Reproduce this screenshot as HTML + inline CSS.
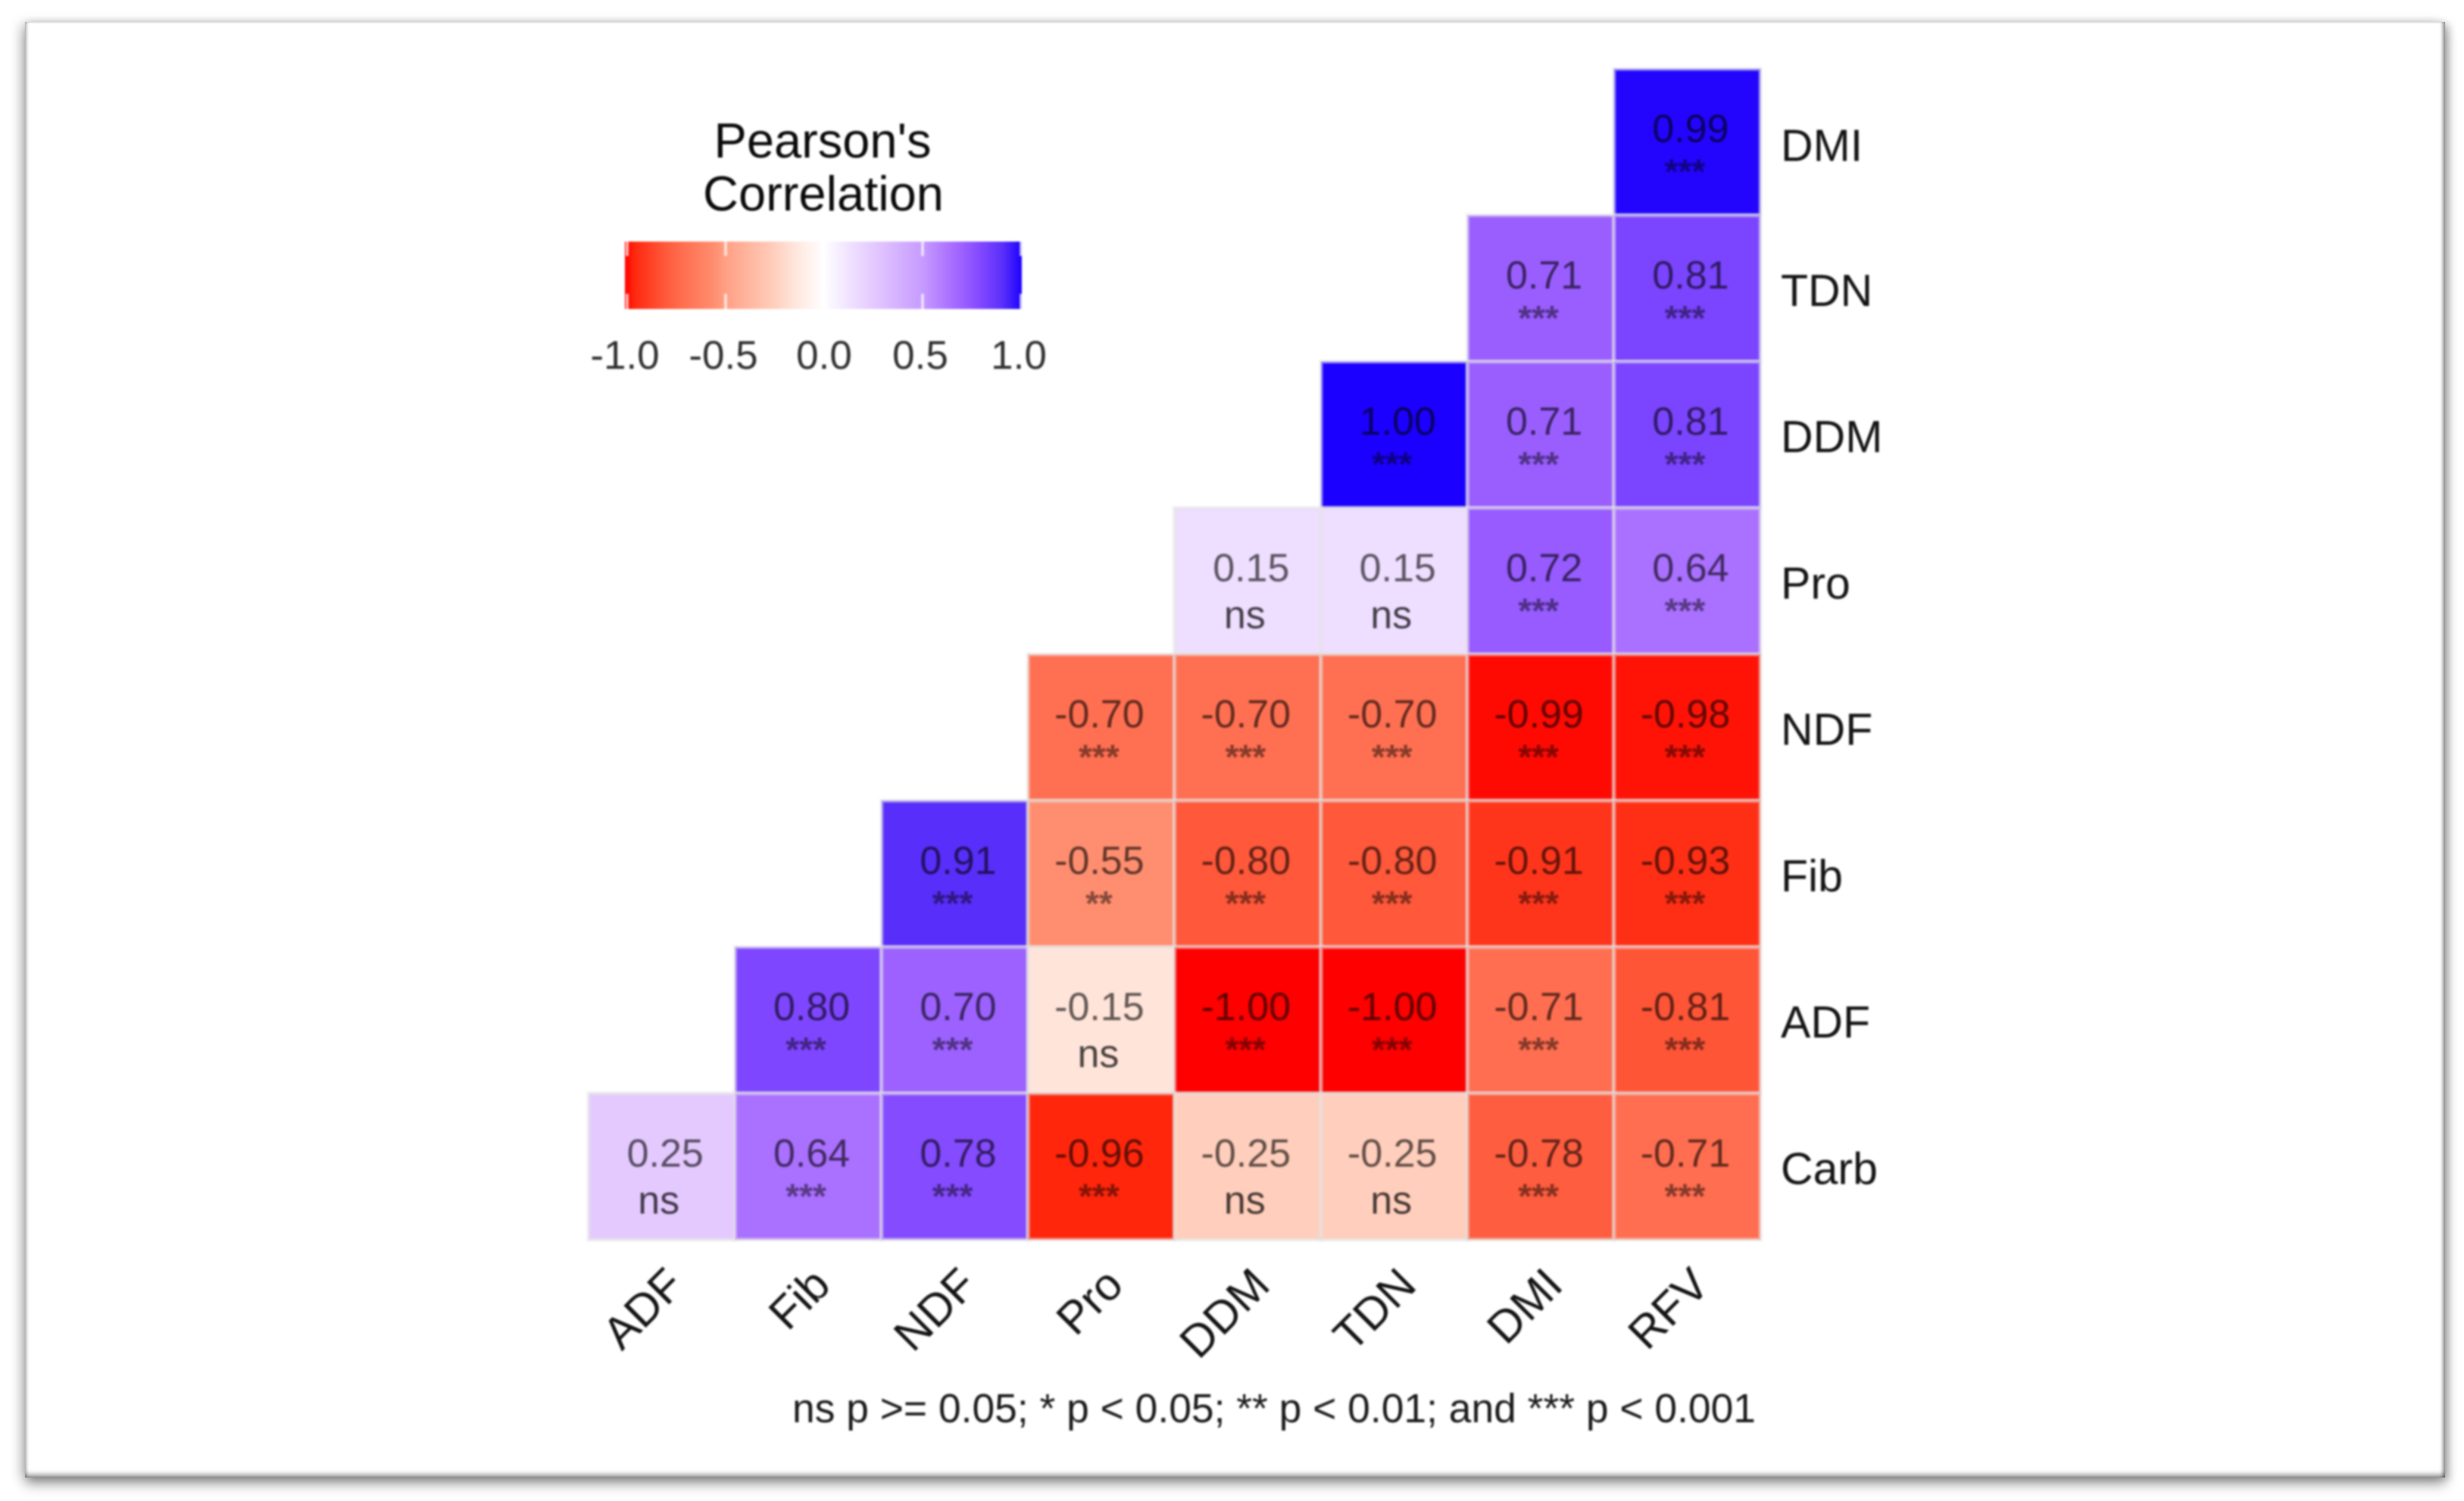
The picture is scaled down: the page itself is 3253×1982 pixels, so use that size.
<!DOCTYPE html>
<html lang="en">
<head>
<meta charset="utf-8">
<title>Pearson's Correlation Heatmap</title>
<style>
  html, body { margin: 0; padding: 0; background: #fff; width: 3253px; height: 1982px; overflow: hidden; }
  #frame {
    position: absolute; left: 33px; top: 29px; width: 3195px; height: 1922px; background: #fff;
    box-shadow: 0 10px 16px rgba(0,0,0,.30), 5px 3px 10px rgba(0,0,0,.22), -7px 0 14px rgba(0,0,0,.13), 0 -3px 7px rgba(0,0,0,.025),
      inset 0 -7px 7px -3px rgba(0,0,0,.42), inset -5px 0 5px -2px rgba(0,0,0,.42), inset 4px 0 4px -2px rgba(0,0,0,.28), inset 0 1px 2px rgba(0,0,0,.03);
  }
  #chart { position: absolute; left: 0; top: 0; filter: blur(1.4px); font-family: "Liberation Sans", Arial, sans-serif; }
</style>
</head>
<body>
<div id="frame"></div>
<svg id="chart" width="3253" height="1982" viewBox="0 0 3253 1982" xmlns="http://www.w3.org/2000/svg">
  <defs><linearGradient id="legend-gradient" x1="0" x2="1" y1="0" y2="0"></linearGradient></defs>
  <g id="cells"></g>
  <g id="cell-labels"></g>
  <g id="y-axis"></g>
  <g id="x-axis"></g>
  <g id="legend">
    <text x="1086" y="208" text-anchor="middle" font-size="65" fill="#0a0a0a">Pearson's</text>
    <text x="1087" y="278" text-anchor="middle" font-size="65" fill="#0a0a0a">Correlation</text>
    <rect x="825" y="319" width="524" height="89" fill="url(#legend-gradient)"></rect>
    <g id="legend-ticks"></g>
  </g>
  <text x="2318" y="1878" text-anchor="end" font-size="53.4" fill="#1a1a1a">ns p &gt;= 0.05; * p &lt; 0.05; ** p &lt; 0.01; and *** p &lt; 0.001</text>
</svg>
<script>
const xCategories = ['ADF', 'Fib', 'NDF', 'Pro', 'DDM', 'TDN', 'DMI', 'RFV'];
const yCategories = ['DMI', 'TDN', 'DDM', 'Pro', 'NDF', 'Fib', 'ADF', 'Carb'];
const correlations = [
  [null, null, null, null, null, null, null, 0.99],
  [null, null, null, null, null, null, 0.71, 0.81],
  [null, null, null, null, null, 1.00, 0.71, 0.81],
  [null, null, null, null, 0.15, 0.15, 0.72, 0.64],
  [null, null, null, -0.70, -0.70, -0.70, -0.99, -0.98],
  [null, null, 0.91, -0.55, -0.80, -0.80, -0.91, -0.93],
  [null, 0.80, 0.70, -0.15, -1.00, -1.00, -0.71, -0.81],
  [0.25, 0.64, 0.78, -0.96, -0.25, -0.25, -0.78, -0.71]
];
const significance = [
  ['', '', '', '', '', '', '', '***'],
  ['', '', '', '', '', '', '***', '***'],
  ['', '', '', '', '', '***', '***', '***'],
  ['', '', '', '', 'ns', 'ns', '***', '***'],
  ['', '', '', '***', '***', '***', '***', '***'],
  ['', '', '***', '**', '***', '***', '***', '***'],
  ['', '***', '***', 'ns', '***', '***', '***', '***'],
  ['ns', '***', '***', '***', 'ns', 'ns', '***', '***']
];
const legendTicks = [-1.0, -0.5, 0.0, 0.5, 1.0];

const SVG_NS = 'http://www.w3.org/2000/svg';
const cellW = 193.4;
const cellH = 193.25;
function xScale(col) { return 777 + col * cellW; }
function yScale(row) { return 91 + row * cellH; }
function legendX(v) { return 1088 + v * 260; }

const colorDomain = [-1, -0.96, -0.9, -0.8, -0.7, -0.55, -0.5, -0.25, -0.15, 0, 0.15, 0.25, 0.5, 0.64, 0.71, 0.8, 0.91, 1];
const colorRange = [
  [255, 0, 0], [255, 38, 12], [255, 56, 30], [255, 88, 58], [255, 112, 82], [255, 142, 112], [255, 158, 130],
  [255, 206, 188], [255, 228, 218], [255, 255, 255], [238, 222, 255], [228, 201, 255], [198, 155, 255],
  [170, 112, 255], [154, 94, 255], [127, 70, 255], [88, 46, 250], [28, 0, 255]
];
function colorScale(v) {
  let i = 0;
  while (i < colorDomain.length - 2 && v > colorDomain[i + 1]) i++;
  const t = Math.max(0, Math.min(1, (v - colorDomain[i]) / (colorDomain[i + 1] - colorDomain[i])));
  const c = colorRange[i].map((a, k) => Math.round(a + (colorRange[i + 1][k] - a) * t));
  return 'rgb(' + c.join(',') + ')';
}
function make(tag, attrs, parent, text) {
  const el = document.createElementNS(SVG_NS, tag);
  for (const k in attrs) el.setAttribute(k, attrs[k]);
  if (text !== undefined) el.textContent = text;
  parent.appendChild(el);
  return el;
}

const cellsGroup = document.getElementById('cells');
const labelsGroup = document.getElementById('cell-labels');
correlations.forEach((rowValues, r) => {
  rowValues.forEach((v, c) => {
    if (v === null) return;
    const rect = make('rect', { x: xScale(c), y: yScale(r), width: cellW, height: cellH, fill: colorScale(v), stroke: 'rgba(228,228,228,.55)', 'stroke-width': 5 }, cellsGroup);
    
    

    const cx = xScale(c) + cellW / 2;
    const cy = yScale(r) + cellH / 2;
    const valueText = make('text', { x: cx + (v < 0 ? -2.5 : 4.5), y: cy, 'text-anchor': 'middle', 'font-size': 52, fill: '#000', 'fill-opacity': 0.62 }, labelsGroup, v.toFixed(2));
    
    

    const sig = significance[r][c];
    const sigText = sig === 'ns'
      ? make('text', { x: cx - 4, y: cy + 62, 'text-anchor': 'middle', 'font-size': 52, fill: '#000', 'fill-opacity': 0.72 }, labelsGroup, sig)
      : make('text', { x: cx - 3, y: cy + 55, 'text-anchor': 'middle', 'font-size': 46, 'font-weight': 'bold', fill: '#000', 'fill-opacity': 0.48 }, labelsGroup, sig);
    
    
  });
});

const yAxis = document.getElementById('y-axis');
yCategories.forEach((name, r) => {
  const t = make('text', { x: 2351, y: yScale(r) + cellH / 2 + 23 + (r === 0 ? 2 : 0), 'font-size': 59, fill: '#141414' }, yAxis, name);
  
  
});

const xAxis = document.getElementById('x-axis');
xCategories.forEach((name, c) => {
  const px = xScale(c) + cellW / 2 + 32;
  const py = 1700;
  const t = make('text', { x: px, y: py, 'text-anchor': 'end', 'font-size': 60, fill: '#141414', transform: 'rotate(-45 ' + px + ' ' + py + ')' }, xAxis, name);
  
  
});

const gradient = document.getElementById('legend-gradient');
for (let i = 0; i <= 40; i++) {
  const v = -1 + i / 20;
  make('stop', { offset: (i / 40 * 100) + '%', 'stop-color': colorScale(v) }, gradient);
}

const legendGroup = document.getElementById('legend-ticks');
legendTicks.forEach((v) => {
  const x = legendX(v);
  const label = make('text', { x: x - (v === 0 ? 0 : 3), y: 487, 'text-anchor': 'middle', 'font-size': 53, fill: '#303030' }, legendGroup, v.toFixed(1));
  
  
  [[319, 338], [388, 408]].forEach((span) => {
    const tick = make('line', { x1: x, x2: x, y1: span[0], y2: span[1], stroke: 'rgba(255,255,255,.75)', 'stroke-width': 3.5 }, legendGroup);
    
    
  });
});
</script>
</body>
</html>
